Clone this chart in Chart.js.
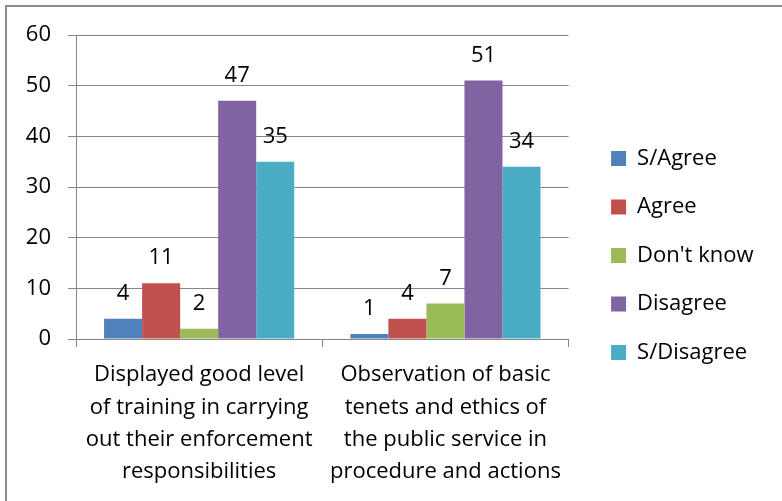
<!DOCTYPE html>
<html>
<head>
<meta charset="utf-8">
<script src="https://cdn.jsdelivr.net/npm/chart.js@4/dist/chart.umd.min.js"></script>
<style>
  body { margin: 0; background: #fff; }
  #frame { position: absolute; left: 5px; top: 5px; width: 800px; height: 520px;
           border-top: 2px solid #8c8c8c; border-left: 2px solid #8c8c8c; }
  #graph { position: absolute; left: 0; top: 0; }
</style>
</head>
<body>
<div id="frame"></div>
<canvas id="graph" width="782" height="501"></canvas>
<script>
// categories (x axis) and one array per answer
const categories = [
    ['Displayed good level', 'of training in carrying', 'out their enforcement', 'responsibilities'],
    ['Observation of basic', 'tenets and ethics of', 'the public service in', 'procedure and actions']
];
const sAgree    = [4, 1];
const agree     = [11, 4];
const dontKnow  = [2, 7];
const disagree  = [47, 51];
const sDisagree = [35, 34];

const seriesNames  = ['S/Agree', 'Agree', "Don't know", 'Disagree', 'S/Disagree'];
const seriesColors = ['#4F81BD', '#C0504D', '#9BBB59', '#8064A2', '#4BACC6'];

const police = 'Open Sans';
const taille = 22;
const gris = '#868686';

// value written above each bar
const etiquettes = {
    id: 'etiquettes',
    afterDatasetsDraw(chart) {
        const ctx = chart.ctx;
        ctx.save();
        ctx.font = taille + 'px "' + police + '"';
        ctx.fillStyle = '#000';
        ctx.textAlign = 'center';
        ctx.textBaseline = 'alphabetic';
        chart.data.datasets.forEach((ds, i) => {
            chart.getDatasetMeta(i).data.forEach((bar, j) => {
                ctx.fillText(ds.data[j], bar.x, bar.y - 19);
            });
        });
        ctx.restore();
    }
};

const valeurs = [sAgree, agree, dontKnow, disagree, sDisagree];

const config = {
    type: 'bar',
    data: {
        labels: categories,
        datasets: valeurs.map((v, i) => ({
            label: seriesNames[i],
            data: v,
            backgroundColor: seriesColors[i],
            categoryPercentage: 0.772,
            barPercentage: 1
        }))
    },
    options: {
        responsive: false,
        animation: false,
        layout: { padding: { left: 0, top: 10, right: 18.5, bottom: 0 } },
        plugins: {
            tooltip: { enabled: false },
            // empty title: only pushes the plot down, the legend keeps the full height
            title: { display: true, text: '', fullSize: false, padding: 0,
                     font: { size: 25, lineHeight: 1 } },
            legend: {
                position: 'right',
                maxWidth: 300,
                labels: {
                    boxWidth: 15,
                    boxHeight: 15,
                    padding: 26.5,
                    color: '#000',
                    font: { family: police, size: taille }
                }
            }
        },
        scales: {
            x: {
                grid: { drawOnChartArea: false, drawTicks: true, tickLength: 8, color: gris },
                border: { color: gris },
                ticks: { color: '#000', padding: 12, maxRotation: 0, autoSkip: false,
                         font: { family: police, size: taille, lineHeight: 1.47 } },
                afterFit(s) { s.height = 162; }
            },
            y: {
                min: 0,
                max: 60,
                ticks: { stepSize: 10, color: '#000', padding: 17,
                         font: { family: police, size: taille } },
                grid: { color: gris, tickLength: 8 },
                border: { color: gris },
                afterFit(s) { s.width = 76; }
            },
            // empty axis, keeps a gap between the bars and the legend
            marge: {
                position: 'right',
                grid: { display: false },
                border: { display: false },
                ticks: { display: false },
                afterFit(s) { s.width = 16; }
            }
        }
    },
    plugins: [etiquettes]
};

const graph1 = new Chart(document.getElementById('graph').getContext('2d'), config);
</script>
</body>
</html>
